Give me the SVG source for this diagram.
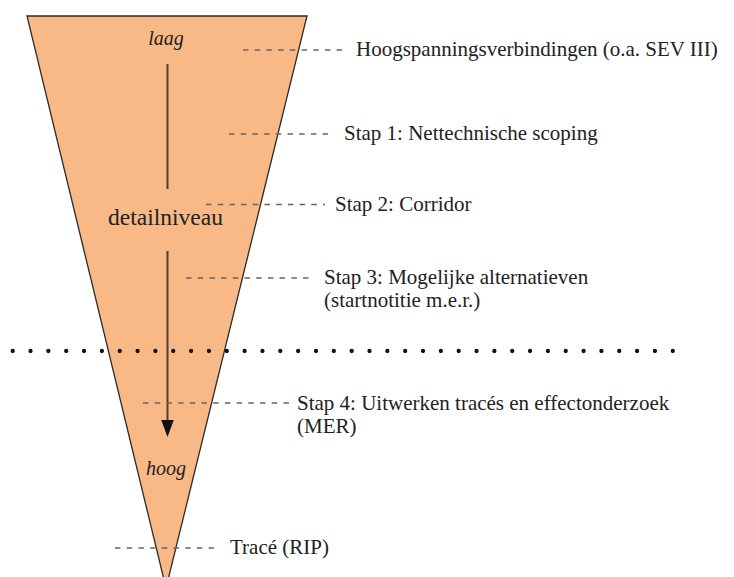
<svg xmlns="http://www.w3.org/2000/svg" width="734" height="577" viewBox="0 0 734 577">
  <style>
    .lbl { font-family: "Liberation Serif", "DejaVu Serif", serif; font-size: 21px; fill: #222; }
    .it { font-family: "Liberation Serif", "DejaVu Serif", serif; font-style: italic; font-size: 20px; fill: #222; }
    .big { font-family: "Liberation Serif", "DejaVu Serif", serif; font-size: 23.5px; fill: #222; }
    .lead { stroke: #666; stroke-width: 1.3; stroke-dasharray: 5.5 6.2; fill: none; }
  </style>
  <rect width="734" height="577" fill="#ffffff"/>
  <g id="funnel">
    <polygon points="27,16 307,16 166,588" fill="#F8B986" stroke="#2a2a2a" stroke-width="1.3" stroke-linejoin="miter"/>
  </g>
  <g id="axis">
    <line x1="167.5" y1="64" x2="167.5" y2="189" stroke="#4d3d33" stroke-width="2"/>
    <line x1="167.5" y1="251" x2="167.5" y2="421" stroke="#4d3d33" stroke-width="2"/>
    <polygon points="161.2,420 173.8,420 167.5,437" fill="#111"/>
    <text class="it" x="166" y="45" text-anchor="middle">laag</text>
    <text class="big" x="165.5" y="225" text-anchor="middle">detailniveau</text>
    <text class="it" x="166" y="475" text-anchor="middle">hoog</text>
  </g>
  <g id="connectors">
    <line class="lead" x1="243" y1="50" x2="343" y2="50"/>
    <line class="lead" x1="229" y1="134" x2="333" y2="134"/>
    <line class="lead" x1="206" y1="204.5" x2="325" y2="204.5"/>
    <line class="lead" x1="186" y1="278" x2="314" y2="278"/>
    <line class="lead" x1="143" y1="403" x2="290" y2="403"/>
    <line class="lead" x1="115" y1="548" x2="215" y2="548"/>
  </g>
  <g id="label-hoogspanning">
    <text class="lbl" x="356" y="56">Hoogspanningsverbindingen (o.a. SEV III)</text>
  </g>
  <g id="label-stap1">
    <text class="lbl" x="344" y="140">Stap 1: Nettechnische scoping</text>
  </g>
  <g id="label-stap2">
    <text class="lbl" x="335" y="211">Stap 2: Corridor</text>
  </g>
  <g id="label-stap3">
    <text class="lbl" x="324" y="284">Stap 3: Mogelijke alternatieven</text>
    <text class="lbl" x="324" y="307">(startnotitie m.e.r.)</text>
  </g>
  <g id="separator">
    <line x1="12.7" y1="351" x2="673" y2="351" stroke="#111" stroke-width="4.3" stroke-linecap="round" stroke-dasharray="0 17.84"/>
  </g>
  <g id="label-stap4">
    <text class="lbl" x="297" y="410">Stap 4: Uitwerken tracés en effectonderzoek</text>
    <text class="lbl" x="297" y="433">(MER)</text>
  </g>
  <g id="label-trace">
    <text class="lbl" x="230" y="554">Tracé (RIP)</text>
  </g>
</svg>
